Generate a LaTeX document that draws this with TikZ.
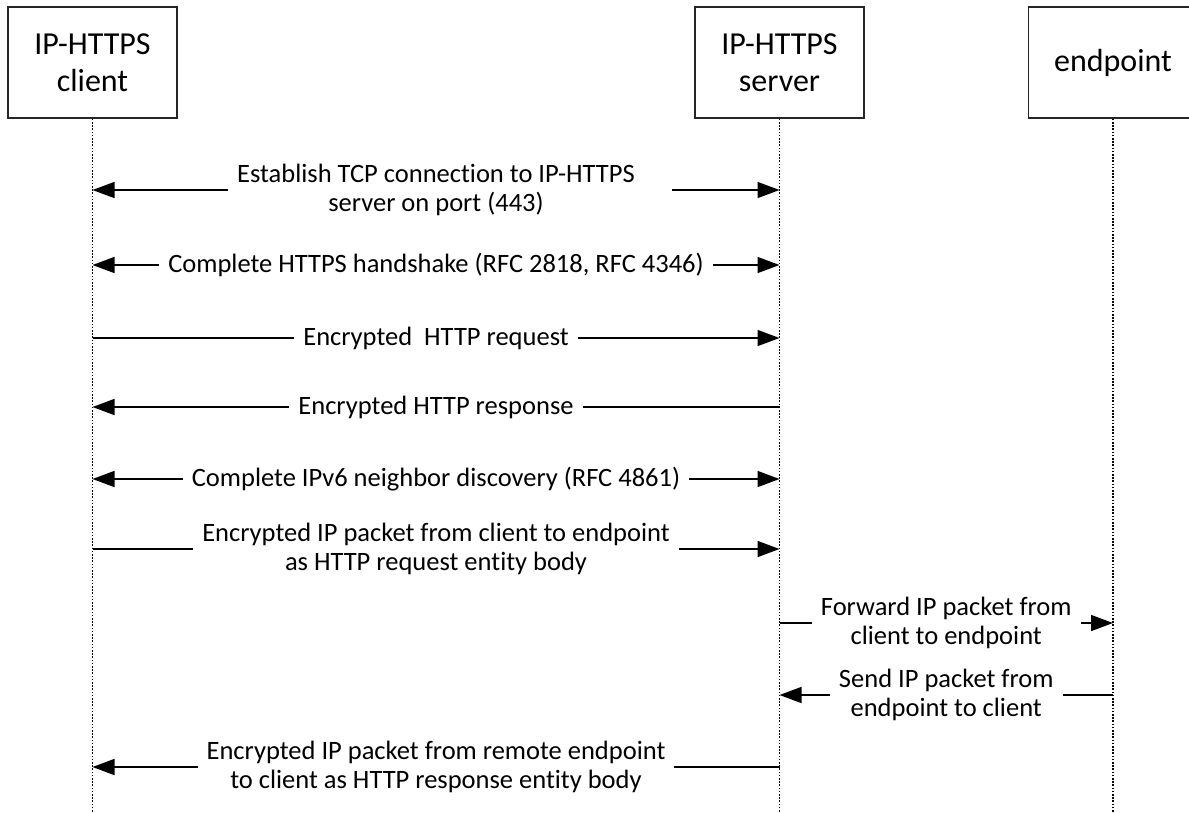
\documentclass[tikz,border=0pt]{standalone}
\usepackage{fontspec}
\setmainfont{Carlito}[Ligatures={NoCommon}]
\usetikzlibrary{arrows.meta,calc}
\begin{document}
\begin{tikzpicture}[x=1pt,y=-1pt,
  actor/.style={draw=black!85, line width=1.6pt, minimum width=169pt, minimum height=111pt,
    align=center, inner sep=0pt, font=\fontsize{32}{37}\selectfont},
  life/.style={line width=1.4pt, dash pattern=on 1.6pt off 1.6pt, black},
  msg/.style={line width=1.5pt, black, >={Triangle[length=22pt,width=16pt]}},
  lbl/.style={fill=white, align=center, inner xsep=9pt, inner ysep=0pt,
    font=\fontsize{26.5}{29}\selectfont}]
\useasboundingbox (0,0) rectangle (1189,812);

% participants
\node[actor] (cl) at (92.5,62.5) {IP-HTTPS\\client};
\node[actor] (sv) at (779.5,62.5) {IP-HTTPS\\server};
\node[actor] (ep) at (1113,62.5) {endpoint};

% lifelines
\coordinate (clE) at (92.5,812);
\coordinate (svE) at (779.5,812);
\coordinate (epE) at (1113,812);
\draw[life] (cl.south) -- (clE);
\draw[life] (sv.south) -- (svE);
\draw[life] (ep.south) -- (epE);

% message anchors
\coordinate (c1) at (92.5,190);  \coordinate (s1) at (779.5,190);
\coordinate (c2) at (92.5,265);  \coordinate (s2) at (779.5,265);
\coordinate (c3) at (92.5,338);  \coordinate (s3) at (779.5,338);
\coordinate (c4) at (92.5,407);  \coordinate (s4) at (779.5,407);
\coordinate (c5) at (92.5,479);  \coordinate (s5) at (779.5,479);
\coordinate (c6) at (92.5,549);  \coordinate (s6) at (779.5,549);
\coordinate (s7) at (779.5,623); \coordinate (e7) at (1113,623);
\coordinate (s8) at (779.5,695); \coordinate (e8) at (1113,695);
\coordinate (c9) at (92.5,767);  \coordinate (s9) at (779.5,767);

% messages
\node[lbl] (m1) at ($(c1)!0.5!(s1)$) {Establish TCP connection to IP-HTTPS\\server on port (443)};
\draw[msg,<-] (c1) -- (c1 -| m1.west);
\draw[msg,->] ([xshift=28pt]m1.east |- s1) -- (s1);
\draw[msg,<->] (c2) -- (s2) node[lbl,midway] (m2) {Complete HTTPS handshake (RFC 2818, RFC 4346)};
\draw[msg,->] (c3) -- (s3) node[lbl,midway] (m3) {Encrypted\ \ HTTP request};
\draw[msg,<-] (c4) -- (s4) node[lbl,midway] (m4) {Encrypted HTTP response};
\draw[msg,<->] (c5) -- (s5) node[lbl,midway] (m5) {Complete IPv6 neighbor discovery (RFC 4861)};
\draw[msg,->] (c6) -- (s6) node[lbl,midway] (m6) {Encrypted IP packet from client to endpoint\\as HTTP request entity body};
\draw[msg,->] (s7) -- (e7) node[lbl,midway] (m7) {Forward IP packet from\\client to endpoint};
\draw[msg,<-] (s8) -- (e8) node[lbl,midway] (m8) {Send IP packet from\\endpoint to client};
\draw[msg,<-] (c9) -- (s9) node[lbl,midway] (m9) {Encrypted IP packet from remote endpoint\\to client as HTTP response entity body};
\end{tikzpicture}
\end{document}
